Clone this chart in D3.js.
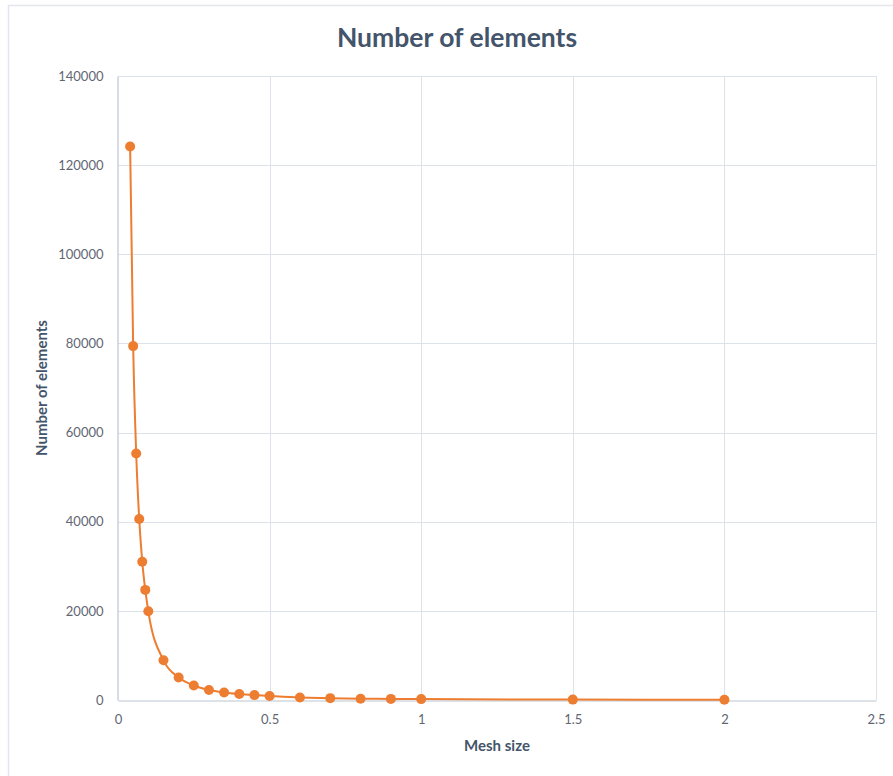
<!DOCTYPE html>
<html>
<head>
<meta charset="utf-8">
<script src="https://cdn.jsdelivr.net/npm/d3@7"></script>
<style>
  html, body { margin: 0; padding: 0; background: #fff; }
  svg { display: block; }
  text { font-family: Lato, "Open Sans", sans-serif; }
</style>
</head>
<body>
<script>
// Mesh size vs. element count
const meshSize = [0.04, 0.05, 0.06, 0.07, 0.08, 0.09, 0.1, 0.15, 0.2, 0.25, 0.3,
                  0.35, 0.4, 0.45, 0.5, 0.6, 0.7, 0.8, 0.9, 1, 1.5, 2];
const elementCount = [124200, 79400, 55300, 40600, 31000, 24700, 19900, 8900, 5050,
                      3250, 2250, 1700, 1350, 1100, 900, 550, 420, 300, 250, 200, 90, 50];
const xTicks = [0, 0.5, 1, 1.5, 2, 2.5];
const yTicks = [0, 20000, 40000, 60000, 80000, 100000, 120000, 140000];
const chartTitle = "Number of elements";
const xTitle = "Mesh size";
const yTitle = "Number of elements";

const W = 893, H = 776;
const plot = { left: 118, right: 876, top: 76, bottom: 700 };

const svg = d3.select("body").append("svg").attr("width", W).attr("height", H);

// outer chart frame
svg.append("rect")
  .attr("x", 8.5).attr("y", 5.5).attr("width", W + 10).attr("height", H + 10)
  .attr("fill", "#fff").attr("stroke", "#e3e6ec").attr("stroke-width", 1.5);

const x = d3.scaleLinear().domain([0, 2.5]).range([plot.left, plot.right]);
const y = d3.scaleLinear().domain([0, 140000]).range([plot.bottom, plot.top]);

// gridlines
const grid = svg.append("g");
grid.selectAll("line.h").data(yTicks.slice(1)).join("line")
  .attr("x1", plot.left).attr("x2", plot.right)
  .attr("y1", d => Math.round(y(d)) + 0.5).attr("y2", d => Math.round(y(d)) + 0.5)
  .attr("stroke", "#dde1e9").attr("stroke-width", 1);
grid.selectAll("line.v").data(xTicks.slice(1)).join("line")
  .attr("y1", plot.top).attr("y2", plot.bottom)
  .attr("x1", d => Math.round(x(d)) + 0.5).attr("x2", d => Math.round(x(d)) + 0.5)
  .attr("stroke", "#dde1e9").attr("stroke-width", 1);

// axes
const xAxis = svg.append("g")
  .attr("transform", `translate(0,${plot.bottom + 0.5})`)
  .call(d3.axisBottom(x).tickValues(xTicks).tickSize(0).tickPadding(14).tickFormat(d3.format("")));
const yAxis = svg.append("g")
  .attr("transform", `translate(${plot.left - 0.5},0)`)
  .call(d3.axisLeft(y).tickValues(yTicks).tickSize(0).tickPadding(14).tickFormat(d3.format("d")));
[xAxis, yAxis].forEach(a => {
  a.select(".domain").attr("stroke", "#bcc4d2").attr("stroke-width", 1.2);
  a.selectAll("text").attr("fill", "#5f6673").attr("font-size", 13).attr("font-family", "Lato, sans-serif");
});
yAxis.selectAll("text").attr("dy", "0.32em");

// series line and markers
const line = d3.line()
  .x((d, i) => x(meshSize[i]))
  .y(d => y(d))
  .curve(d3.curveMonotoneX);
svg.append("path")
  .datum(elementCount)
  .attr("d", line)
  .attr("fill", "none")
  .attr("stroke", "#ed7d31")
  .attr("stroke-width", 2);
svg.append("g").selectAll("circle").data(elementCount).join("circle")
  .attr("cx", (d, i) => x(meshSize[i]))
  .attr("cy", d => y(d))
  .attr("r", 5)
  .attr("fill", "#ed7d31");

// titles
svg.append("text")
  .attr("x", 457).attr("y", 47)
  .attr("text-anchor", "middle")
  .attr("font-size", 26.5).attr("font-weight", 700)
  .attr("fill", "#44546a")
  .text(chartTitle);
svg.append("text")
  .attr("x", (plot.left + plot.right) / 2).attr("y", 751)
  .attr("text-anchor", "middle")
  .attr("font-size", 15).attr("font-weight", 700)
  .attr("fill", "#44546a")
  .text(xTitle);
svg.append("text")
  .attr("transform", `translate(47,${(plot.top + plot.bottom) / 2}) rotate(-90)`)
  .attr("text-anchor", "middle")
  .attr("font-size", 15).attr("font-weight", 700)
  .attr("fill", "#44546a")
  .text(yTitle);
</script>
</body>
</html>
